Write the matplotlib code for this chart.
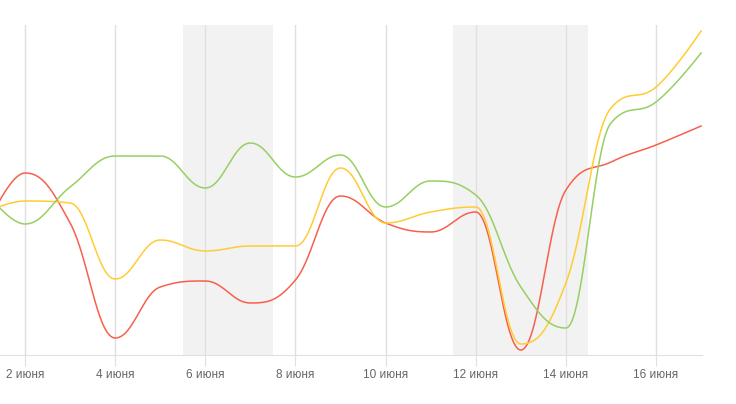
import numpy as np
import matplotlib
matplotlib.use("Agg")
import matplotlib.pyplot as plt

plt.rcParams['font.family'] = ['Liberation Sans', 'DejaVu Sans']

# days of June and the three series (arbitrary units)
days = [1, 2, 3, 4, 5, 6, 7, 8, 9, 10, 11, 12, 13, 14, 15, 16, 17]
red = [112, 182, 132, 17, 68, 74, 52, 75, 159, 132, 123, 143, 5, 165, 193, 210, 229]
yellow = [140, 154, 152, 76, 115, 104, 109, 109, 187, 132, 143, 148, 11, 72, 247, 268, 324]
green = [172, 131, 168, 199, 199, 167, 212, 178, 200, 148, 174, 160, 68, 27, 232, 253, 302]
colors = {"red": "#f7604c", "yellow": "#ffcc33", "green": "#98cf62"}

tick_days = [2, 4, 6, 8, 10, 12, 14, 16]
tick_labels = [f"{d} июня" for d in tick_days]
holidays = [(5.5, 6.5), (6.5, 7.5), (11.5, 12.5), (12.5, 14.5)]


def spline(x, y, n=60):
    # highcharts-style spline: bezier control points, flattened at extremes
    sm, den = 1.5, 2.5
    N = len(x)
    lc = [(x[i], y[i]) for i in range(N)]
    rc = [(x[i], y[i]) for i in range(N)]
    for i in range(1, N - 1):
        lx = (sm * x[i] + x[i - 1]) / den
        ly = (sm * y[i] + y[i - 1]) / den
        rx = (sm * x[i] + x[i + 1]) / den
        ry = (sm * y[i] + y[i + 1]) / den
        if rx != lx:
            corr = (ry - ly) * (rx - x[i]) / (rx - lx) + y[i] - ry
            ly += corr
            ry += corr
        if ly > y[i - 1] and ly > y[i]:
            ly = max(y[i - 1], y[i])
            ry = 2 * y[i] - ly
        elif ly < y[i - 1] and ly < y[i]:
            ly = min(y[i - 1], y[i])
            ry = 2 * y[i] - ly
        if ry > y[i + 1] and ry > y[i]:
            ry = max(y[i + 1], y[i])
            ly = 2 * y[i] - ry
        elif ry < y[i + 1] and ry < y[i]:
            ry = min(y[i + 1], y[i])
            ly = 2 * y[i] - ry
        lc[i] = (lx, ly)
        rc[i] = (rx, ry)
    t = np.linspace(0, 1, n)[:, None]
    out = []
    for i in range(1, N):
        p0 = np.array([x[i - 1], y[i - 1]])
        p1 = np.array(rc[i - 1])
        p2 = np.array(lc[i])
        p3 = np.array([x[i], y[i]])
        seg = (1 - t) ** 3 * p0 + 3 * (1 - t) ** 2 * t * p1 + 3 * (1 - t) * t**2 * p2 + t**3 * p3
        out.append(seg if i == 1 else seg[1:])
    pts = np.vstack(out)
    return pts[:, 0], pts[:, 1]


fig = plt.figure(figsize=(7.36, 4.04), dpi=100)
ax = fig.add_axes([0, 49 / 404, 702 / 736, 330 / 404])

for a, b in holidays:
    ax.axvspan(a, b, color="#f2f2f2", lw=0, zorder=0)

for name, vals in [("red", red), ("yellow", yellow), ("green", green)]:
    sx, sy = spline(days, vals)
    ax.plot(sx, sy, color=colors[name], lw=1.1, zorder=3)

ax.set_xlim(1.444, 17.02)
ax.set_ylim(0, 330)
ax.set_xticks(tick_days)
ax.set_xticklabels(tick_labels)
ax.set_yticks([])
ax.grid(axis="x", color="#e0e0e0", lw=1, zorder=1)
ax.tick_params(axis="x", length=8, color="#e0e0e0", labelsize=8.5, labelcolor="#666666", pad=2)
for s in ["top", "right", "left"]:
    ax.spines[s].set_visible(False)
ax.spines["bottom"].set_color("#e0e0e0")
ax.set_facecolor("none")

fig.savefig("out.png", dpi=100)
